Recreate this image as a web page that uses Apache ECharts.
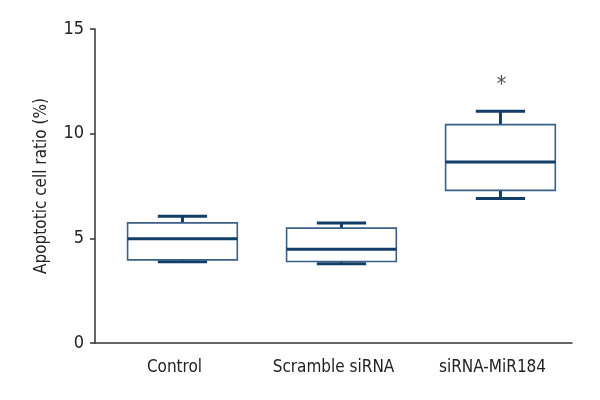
<!DOCTYPE html>
<html><head><meta charset="utf-8">
<script src="https://cdn.jsdelivr.net/npm/echarts@6/dist/echarts.min.js"></script>
<style>html,body{margin:0;padding:0;background:#fff}#c{width:600px;height:400px}</style>
</head><body><div id="c"></div>
<script>
var categories = ['Control', 'Scramble siRNA', 'siRNA-MiR184'];
var mins    = [3.88, 3.78, 6.90];
var q1s     = [3.97, 3.89, 7.29];
var medians = [4.98, 4.48, 8.65];
var q3s     = [5.74, 5.49, 10.43];
var maxs    = [6.06, 5.73, 11.07];
var yTicks  = [0, 5, 10, 15];
var marks   = [[2, 12.3, '*']];

var FONT = '"Liberation Sans Narrow", "DejaVu Sans Condensed", sans-serif';
var data = categories.map(function (c, i) { return [i, mins[i], q1s[i], medians[i], q3s[i], maxs[i]]; });
var SHIFT = 0.05; // boxes sit slightly right of the label centres in the reference

var chart = echarts.init(document.getElementById('c'), null, {renderer: 'canvas'});
chart.setOption({
  animation: false,
  grid: {left: 95, right: 28, top: 29, bottom: 57},
  xAxis: {
    type: 'category', data: categories,
    axisLine: {lineStyle: {color: '#333', width: 1.5}},
    axisTick: {show: false},
    axisLabel: {color: '#222', fontFamily: FONT, fontSize: 17, margin: 16}
  },
  yAxis: {
    type: 'value', min: 0, max: 15, interval: 5,
    name: 'Apoptotic cell ratio (%)', nameLocation: 'middle', nameGap: 45,
    nameTextStyle: {color: '#222', fontFamily: FONT, fontSize: 17},
    axisLine: {show: true, lineStyle: {color: '#333', width: 1.5}},
    axisTick: {show: true, length: 5, lineStyle: {color: '#333', width: 1.5}},
    axisLabel: {color: '#222', fontFamily: FONT, fontSize: 18, margin: 11,
      formatter: function (v) { return yTicks.indexOf(v) >= 0 ? String(v) : ''; }},
    splitLine: {show: false}
  },
  series: [{
    type: 'custom',
    data: data,
    renderItem: function (params, api) {
      var x = api.value(0);
      var band = api.size([1, 0])[0];
      var bw = band * 0.69, cw = band * 0.31;
      var pMin = api.coord([x, api.value(1)]);
      var pQ1 = api.coord([x, api.value(2)]);
      var pMed = api.coord([x, api.value(3)]);
      var pQ3 = api.coord([x, api.value(4)]);
      var pMax = api.coord([x, api.value(5)]);
      var cx = pMed[0] + band * SHIFT;
      var thick = {stroke: '#123d66', lineWidth: 3};
      return {type: 'group', children: [
        {type: 'line', shape: {x1: cx, y1: pMax[1], x2: cx, y2: pQ3[1]}, style: thick},
        {type: 'line', shape: {x1: cx, y1: pQ1[1], x2: cx, y2: pMin[1]}, style: thick},
        {type: 'line', shape: {x1: cx - cw / 2, y1: pMax[1], x2: cx + cw / 2, y2: pMax[1]}, style: thick},
        {type: 'line', shape: {x1: cx - cw / 2, y1: pMin[1], x2: cx + cw / 2, y2: pMin[1]}, style: thick},
        {type: 'rect', shape: {x: cx - bw / 2, y: pQ3[1], width: bw, height: pQ1[1] - pQ3[1]},
          style: {fill: '#fff', stroke: '#3b5f86', lineWidth: 1.6}},
        {type: 'line', shape: {x1: cx - bw / 2, y1: pMed[1], x2: cx + bw / 2, y2: pMed[1]}, style: thick}
      ]};
    }
  }, {
    type: 'scatter', symbolSize: 0,
    data: marks,
    label: {show: true, position: 'inside', offset: [9, 0], formatter: function (p) { return p.data[2]; },
      color: '#222', fontSize: 22, fontFamily: FONT}
  }]
});
</script></body></html>
